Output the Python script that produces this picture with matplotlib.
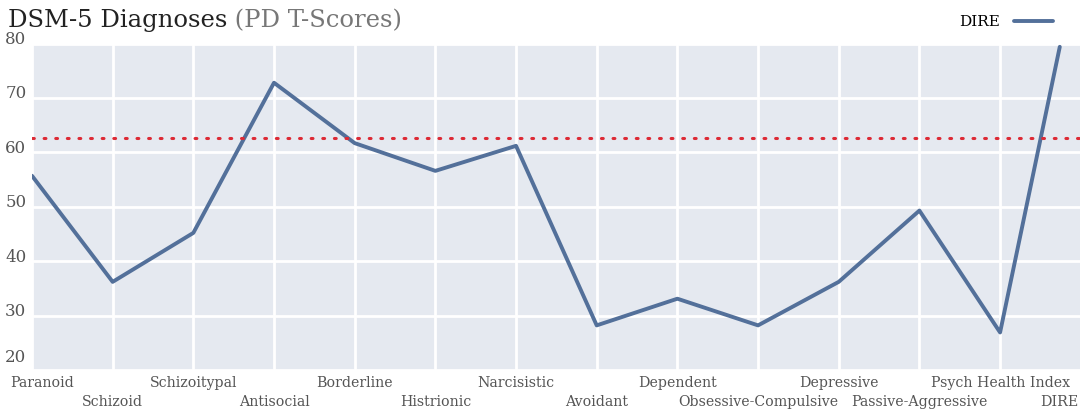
import numpy as np
import matplotlib.pyplot as plt
import matplotlib.transforms as mtransforms

categories = ['Paranoid', 'Schizoid', 'Schizoitypal', 'Antisocial', 'Borderline',
              'Histrionic', 'Narcisistic', 'Avoidant', 'Dependent',
              'Obsessive-Compulsive', 'Depressive', 'Passive-Aggressive',
              'Psych Health Index', 'DIRE']
dire_scores = [55.7, 36.2, 45.2, 72.8, 61.7, 56.6, 61.2, 28.2, 33.1, 28.2,
               36.2, 49.3, 26.9, 79.4]
cutoff = 62.7

plt.rcParams['font.family'] = ['DejaVu Serif']

fig = plt.figure(figsize=(10.88, 4.11), dpi=100)
ax = fig.add_axes([0.0294, 0.0998, 0.9632, 0.7942])
ax.set_facecolor('#e5e9f0')

x = np.arange(len(categories), dtype=float)
x[-1] = 12.74  # last point sits inside the right edge

line, = ax.plot(x, dire_scores, color='#53709a', lw=2.8,
                solid_capstyle='round', solid_joinstyle='round', label='DIRE')
ax.axhline(cutoff, color='#dd2a35', lw=2.2, ls=(0, (0.6, 3.2)),
           dash_capstyle='round')

ax.set_xlim(0, 12.99)
ax.set_ylim(20, 80)
ax.set_yticks(range(20, 81, 10))
ax.set_xticks(np.arange(13))
ax.set_xticklabels([])
ax.grid(True, color='white', lw=2)
ax.set_axisbelow(True)
for s in ax.spines.values():
    s.set_visible(False)
ax.tick_params(length=0)
ax.tick_params(axis='y', labelsize=12, labelcolor='#555555', pad=4)
up = mtransforms.ScaledTranslation(0, 3 / 72, fig.dpi_scale_trans)
for lab in ax.get_yticklabels():
    lab.set_verticalalignment('center')
    lab.set_transform(lab.get_transform() + up)
ax.get_yticklabels()[0].set_verticalalignment('bottom')

trans = mtransforms.blended_transform_factory(ax.transData, ax.transAxes)
for i, name in enumerate(categories):
    yy = -0.018 if i % 2 == 0 else -0.078
    ha = 'center'
    xx = x[i]
    if i == 0:
        ha = 'left'
        xx = -0.27
    ax.text(xx, yy, name, transform=trans, ha=ha, va='top',
            fontsize=10.2, color='#555555', clip_on=False)

t1 = fig.text(0.007, 0.95, 'DSM-5 Diagnoses', fontsize=17.5, color='#222222', va='center')
ax.annotate(' (PD T-Scores)', xy=(1, 0.5), xycoords=t1, va='center', ha='left',
            fontsize=17.5, color='#777777', annotation_clip=False)

ax.legend(handles=[line], loc='lower right', bbox_to_anchor=(0.982, 1.02),
          frameon=False, fontsize=11, handlelength=2.6, handletextpad=0.9,
          markerfirst=False, borderaxespad=0.1)

fig.savefig('out.png', dpi=100)
